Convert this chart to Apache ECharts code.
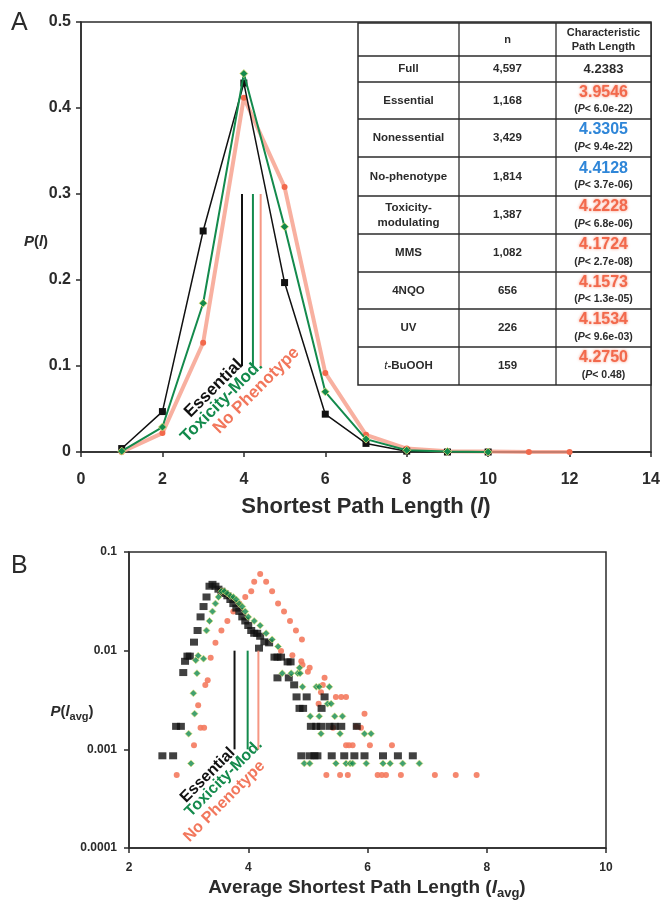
<!DOCTYPE html>
<html><head><meta charset="utf-8">
<script src="https://cdn.jsdelivr.net/npm/echarts@6/dist/echarts.min.js"></script>
<style>html,body{margin:0;padding:0;background:#fff}#c{width:663px;height:903px}</style>
</head><body><div id="c"></div>
<script>
// ---------- Panel A data ----------
const pathLengthA = [1,2,3,4,5,6,7,8,9,10,11,12];
const essentialA = [0.004,0.047,0.257,0.429,0.197,0.044,0.010,0.001,0,0];
const toxicityA  = [0.001,0.029,0.173,0.440,0.262,0.070,0.015,0.002,0.0005,0];
const noPhenoA   = [0,0.022,0.127,0.412,0.308,0.092,0.020,0.004,0.001,0.0005,0,0];
const meanA = [3.9546, 4.2228, 4.4128];      // Essential, Toxicity-Mod., No Phenotype
const meanSpanA = [0.1, 0.3];
const xTicksA = ['0','2','4','6','8','10','12','14'];
const yTicksA = ['0','0.1','0.2','0.3','0.4','0.5'];

// ---------- Table ----------
const tblGroup = ['Full','Essential','Nonessential','No-phenotype','Toxicity-\nmodulating','MMS','4NQO','UV','t-BuOOH'];
const tblN     = ['4,597','1,168','3,429','1,814','1,387','1,082','656','226','159'];
const tblCPL   = ['4.2383','3.9546','4.3305','4.4128','4.2228','4.1724','4.1573','4.1534','4.2750'];
const tblP     = ['','6.0e-22','9.4e-22','3.7e-06','6.8e-06','2.7e-08','1.3e-05','9.6e-03','0.48'];
const tblDir   = ['none','low','high','high','low','low','low','low','low'];

// ---------- Panel B data ----------
const essentialB = [
 [2.56,0.00086],[2.74,0.00086],[2.79,0.00171],[2.87,0.00171],[2.91,0.0060],[2.94,0.0078],[2.98,0.0088],[3.02,0.0088],[3.09,0.0122],
 [3.15,0.016],[3.2,0.022],[3.25,0.028],[3.3,0.035],[3.35,0.045],[3.4,0.047],[3.45,0.045],[3.5,0.042],[3.55,0.040],[3.6,0.038],[3.65,0.036],
 [3.7,0.033],[3.75,0.030],[3.8,0.027],[3.85,0.025],[3.9,0.022],[3.95,0.020],[4.0,0.018],[4.05,0.016],[4.1,0.015],[4.15,0.015],[4.2,0.014],
 [4.18,0.0106],[4.27,0.0123],[4.35,0.012],[4.44,0.0086],[4.49,0.0086],[4.55,0.0086],[4.66,0.0077],[4.71,0.0077],[4.49,0.0053],[4.68,0.0053],
 [4.77,0.0045],[4.81,0.0034],[4.98,0.0034],[5.28,0.0034],[4.86,0.0026],[4.92,0.0026],[5.23,0.0026],
 [5.05,0.00171],[5.14,0.00171],[5.22,0.00171],[5.36,0.00171],[5.45,0.00171],[5.56,0.00171],[5.82,0.00171],
 [4.89,0.00086],[5.03,0.00086],[5.11,0.00086],[5.16,0.00086],[5.40,0.00086],[5.61,0.00086],[5.78,0.00086],[5.95,0.00086],[6.26,0.00086],[6.51,0.00086],[6.76,0.00086]
];
const toxicityB = [
 [3.04,0.00072],[3.00,0.00144],[3.10,0.0023],[3.08,0.0037],[3.14,0.0059],[3.12,0.0080],[3.16,0.0089],[3.25,0.0083],
 [3.3,0.016],[3.35,0.020],[3.4,0.025],[3.45,0.030],[3.5,0.035],[3.55,0.040],[3.6,0.040],[3.65,0.038],[3.7,0.036],[3.75,0.035],[3.8,0.033],
 [3.85,0.030],[3.9,0.028],[3.95,0.025],[4.0,0.022],[4.1,0.020],[4.2,0.018],[4.3,0.015],[4.4,0.013],[4.5,0.011],
 [4.57,0.0059],[4.72,0.0059],[4.83,0.0059],[4.87,0.0059],[4.86,0.0067],
 [4.91,0.0043],[5.14,0.0043],[5.19,0.0043],[5.36,0.0043],[5.33,0.0029],[5.39,0.0029],
 [5.04,0.00216],[5.19,0.00216],[5.45,0.00216],[5.58,0.00216],[5.22,0.00144],[5.54,0.00144],[5.95,0.00144],[6.06,0.00144],
 [4.94,0.00072],[5.03,0.00072],[5.47,0.00072],[5.64,0.00072],[5.71,0.00072],[5.75,0.00072],[5.98,0.00072],[6.26,0.00072],[6.38,0.00072],[6.59,0.00072],[6.87,0.00072]
];
const noPhenoB = [
 [2.80,0.00055],[3.09,0.0011],[3.20,0.00165],[3.26,0.00165],[3.16,0.0028],[3.28,0.0045],[3.32,0.0050],[3.37,0.0085],
 [3.45,0.012],[3.55,0.016],[3.65,0.020],[3.75,0.025],[3.85,0.030],[3.95,0.035],[4.05,0.040],[4.1,0.050],[4.2,0.060],[4.3,0.050],[4.4,0.040],
 [4.5,0.030],[4.6,0.025],[4.7,0.020],[4.8,0.016],[4.9,0.013],[4.55,0.0099],[4.74,0.0090],
 [4.89,0.0078],[4.91,0.0072],[5.00,0.0061],[5.03,0.0067],[5.28,0.0053],[5.25,0.0045],[5.22,0.0038],[5.47,0.0034],[5.56,0.0034],[5.64,0.0034],
 [5.18,0.0029],[5.95,0.0023],[5.81,0.0017],[5.42,0.00165],[5.89,0.00165],
 [5.64,0.0011],[5.69,0.0011],[5.75,0.0011],[6.04,0.0011],[6.41,0.0011],
 [5.31,0.00055],[5.54,0.00055],[5.67,0.00055],[6.17,0.00055],[6.24,0.00055],[6.31,0.00055],[6.56,0.00055],[7.13,0.00055],[7.48,0.00055],[7.83,0.00055]
];
const meanB = [3.77, 3.99, 4.17];
const meanSpanB = [0.001, 0.01];
const xTicksB = ['2','4','6','8','10'];
const yTicksB = ['0.0001','0.001','0.01','0.1'];
const groupNames = ['Essential','Toxicity-Mod.','No Phenotype'];

// ---------- styles ----------
const FONT = '"Liberation Sans", Arial, Helvetica, sans-serif';
const INK = '#2b2b2b';
const C_BLACK = '#111111', C_GREEN = '#138a4c', C_RED = '#f2694c', C_REDLINE = 'rgba(245,150,128,0.75)';
const C_BLUE = '#2f86d8';

const chart = echarts.init(document.getElementById('c'), null, {renderer:'canvas'});

function axisCommon(extra){
  return Object.assign({
    axisLine:{show:true, lineStyle:{color:INK, width:1.5}},
    axisTick:{show:true, inside:false, length:5, lineStyle:{color:INK, width:1.5}},
    splitLine:{show:false}
  }, extra);
}

const series = [];
// Panel A curves
series.push({type:'line', xAxisIndex:0, yAxisIndex:0, z:2,
  data: noPhenoA.map((v,i)=>[pathLengthA[i],v]),
  lineStyle:{color:C_REDLINE, width:4}, symbol:'circle', symbolSize:6,
  itemStyle:{color:C_RED}, animation:false});
series.push({type:'line', xAxisIndex:0, yAxisIndex:0, z:3,
  data: essentialA.map((v,i)=>[pathLengthA[i],v]),
  lineStyle:{color:C_BLACK, width:1.5}, symbol:'rect', symbolSize:7,
  itemStyle:{color:C_BLACK}, animation:false});
series.push({type:'line', xAxisIndex:0, yAxisIndex:0, z:4,
  data: toxicityA.map((v,i)=>[pathLengthA[i],v]),
  lineStyle:{color:C_GREEN, width:2}, symbol:'diamond', symbolSize:8,
  itemStyle:{color:C_GREEN, borderColor:'#e9e27a', borderWidth:0.8}, animation:false});
// mean lines
const meanColors = [C_BLACK, C_GREEN, 'rgba(245,140,118,0.9)'];
meanA.forEach((m,i)=>{
  series.push({type:'line', xAxisIndex:0, yAxisIndex:0, z:5, symbol:'none',
    data: meanSpanA.map(v=>[m,v]), lineStyle:{color:meanColors[i], width:2}, animation:false});
});
// Panel B scatter
series.push({type:'scatter', xAxisIndex:1, yAxisIndex:1, z:2, data:noPhenoB, symbol:'circle', symbolSize:6,
  itemStyle:{color:'#f47a5e', opacity:0.9}, animation:false});
series.push({type:'scatter', xAxisIndex:1, yAxisIndex:1, z:3, data:essentialB, symbol:'rect', symbolSize:[8,7],
  itemStyle:{color:C_BLACK}, animation:false});
series.push({type:'scatter', xAxisIndex:1, yAxisIndex:1, z:4, data:toxicityB, symbol:'diamond', symbolSize:7,
  itemStyle:{color:C_GREEN, borderColor:'#e9e27a', borderWidth:0.8}, animation:false});
meanB.forEach((m,i)=>{
  series.push({type:'line', xAxisIndex:1, yAxisIndex:1, z:5, symbol:'none',
    data: meanSpanB.map(v=>[m,v]), lineStyle:{color:meanColors[i], width:2}, animation:false});
});

const option = {
  backgroundColor:'#fff',
  animation:false,
  textStyle:{fontFamily:FONT},
  grid:[
    {left:81, top:22, width:570, height:430, show:true, borderColor:INK, borderWidth:1.5, backgroundColor:'transparent'},
    {left:129, top:552, width:477, height:296, show:true, borderColor:INK, borderWidth:1.5, backgroundColor:'transparent'}
  ],
  xAxis:[
    axisCommon({type:'value', gridIndex:0, min:0, max:14, interval:2,
      axisLabel:{fontFamily:FONT, fontWeight:'bold', fontSize:16, color:INK, margin:20,
        formatter:(v,i)=>xTicksA[i]}}),
    axisCommon({type:'value', gridIndex:1, min:2, max:10, interval:2,
      axisLabel:{fontFamily:FONT, fontWeight:'bold', fontSize:12, color:INK, margin:14,
        formatter:(v,i)=>xTicksB[i]}})
  ],
  yAxis:[
    axisCommon({type:'value', gridIndex:0, min:0, max:0.5, interval:0.1,
      axisLabel:{fontFamily:FONT, fontWeight:'bold', fontSize:16, color:INK, margin:10,
        formatter:(v,i)=>yTicksA[i]}}),
    axisCommon({type:'log', logBase:10, gridIndex:1, min:0.0001, max:0.1,
      axisLabel:{fontFamily:FONT, fontWeight:'bold', fontSize:12, color:INK, margin:12,
        formatter:(v,i)=>yTicksB[i]}, minorTick:{show:false}})
  ],
  series: series
};
chart.setOption(option);

// ---------- graphics: titles, labels, table ----------
const g = [];
g.push({type:'text', x:11, y:11, style:{text:'A', font:'25px '+FONT, fill:INK}});
g.push({type:'text', x:11, y:554, style:{text:'B', font:'25px '+FONT, fill:INK}});
g.push({type:'text', x:36, y:242, style:{text:'{i|P}{n|(}{i|l}{n|)}', align:'center', verticalAlign:'middle',
  rich:{i:{font:'italic bold 15px '+FONT, fill:INK}, n:{font:'bold 15px '+FONT, fill:INK}}}});
g.push({type:'text', x:366, y:507, style:{text:'{n|Shortest Path Length (}{i|l}{n|)}', align:'center', verticalAlign:'middle',
  rich:{i:{font:'italic bold 22px '+FONT, fill:INK}, n:{font:'bold 22px '+FONT, fill:INK}}}});
g.push({type:'text', x:72, y:712, style:{text:'{i|P}{n|(}{i|l}{s|avg}{n|)}', align:'center', verticalAlign:'middle',
  rich:{i:{font:'italic bold 15px '+FONT, fill:INK}, n:{font:'bold 15px '+FONT, fill:INK},
        s:{font:'bold 11px '+FONT, fill:INK, padding:[10,0,0,0]}}}});
g.push({type:'text', x:367, y:888, style:{text:'{n|Average Shortest Path Length (}{i|l}{s|avg}{n|)}', align:'center', verticalAlign:'middle',
  rich:{i:{font:'italic bold 19px '+FONT, fill:INK}, n:{font:'bold 19px '+FONT, fill:INK},
        s:{font:'bold 13px '+FONT, fill:INK, padding:[11,0,0,0]}}}});

// rotated group labels near the bottoms of the mean lines
const labelColors = [C_BLACK, C_GREEN, '#f2775c'];
const offA = [[-2,-4],[7,-3],[36,-16]];
const offB = [[-2,1],[12,-7],[4,14]];
meanA.forEach((m,i)=>{
  const p = chart.convertToPixel({gridIndex:0}, [m, meanSpanA[0]]);
  g.push({type:'text', x:p[0]+offA[i][0], y:p[1]+offA[i][1], rotation:Math.PI/4,
    style:{text:groupNames[i], font:'bold 17px '+FONT, fill:labelColors[i], align:'right', verticalAlign:'middle'}});
});
meanB.forEach((m,i)=>{
  const p = chart.convertToPixel({gridIndex:1}, [m, meanSpanB[0]]);
  g.push({type:'text', x:p[0]+offB[i][0], y:p[1]+offB[i][1], rotation:Math.PI/4,
    style:{text:groupNames[i], font:'bold 16px '+FONT, fill:labelColors[i], align:'right', verticalAlign:'middle'}});
});

// table
const colX = [358, 459, 556, 651];
const rowY = [23, 56, 82, 119, 157, 196, 234, 272, 309, 347, 385];
g.push({type:'rect', shape:{x:colX[0], y:rowY[0], width:colX[3]-colX[0], height:rowY[rowY.length-1]-rowY[0]},
  style:{fill:'#fff', stroke:INK, lineWidth:1.5}, z:10});
rowY.slice(1,-1).forEach(y=>g.push({type:'line', shape:{x1:colX[0], y1:y, x2:colX[3], y2:y}, style:{stroke:INK, lineWidth:1.3}, z:11}));
[colX[1], colX[2]].forEach(x=>g.push({type:'line', shape:{x1:x, y1:rowY[0], x2:x, y2:rowY[rowY.length-1]}, style:{stroke:INK, lineWidth:1.3}, z:11}));
const cx = i => (colX[i]+colX[i+1])/2;
g.push({type:'text', x:cx(1), y:(rowY[0]+rowY[1])/2, z:12, style:{text:'n', font:'bold 11px '+FONT, fill:INK, align:'center', verticalAlign:'middle'}});
g.push({type:'text', x:cx(2), y:(rowY[0]+rowY[1])/2, z:12, style:{text:'Characteristic\nPath Length', font:'bold 11px '+FONT, lineHeight:14, fill:INK, align:'center', verticalAlign:'middle'}});
tblGroup.forEach((name,r)=>{
  const yc = (rowY[r+1]+rowY[r+2])/2;
  const nameText = name==='t-BuOOH' ? '{i|t}{n|-BuOOH}' : name.split('\n').map(s=>'{n|'+s+'}').join('\n');
  g.push({type:'text', x:cx(0), y:yc, z:12, style:{text:nameText, align:'center', verticalAlign:'middle', lineHeight:15,
    rich:{n:{font:'bold 11.5px '+FONT, fill:INK, lineHeight:15}, i:{font:'italic 11.5px '+FONT, fill:INK, lineHeight:15}}}});
  g.push({type:'text', x:cx(1), y:yc, z:12, style:{text:tblN[r], font:'bold 11.5px '+FONT, fill:INK, align:'center', verticalAlign:'middle'}});
  if (tblDir[r]==='none') {
    g.push({type:'text', x:cx(2), y:yc, z:12, style:{text:tblCPL[r], font:'bold 13px '+FONT, fill:INK, align:'center', verticalAlign:'middle'}});
  } else {
    const col = tblDir[r]==='high' ? C_BLUE : '#f2694c';
    g.push({type:'text', x:cx(2), y:yc-8, z:12, style:{text:tblCPL[r], font:'bold 16px '+FONT, fill:col, align:'center', verticalAlign:'middle',
      textShadowColor: tblDir[r]==='low' ? 'rgba(245,120,90,0.8)' : 'transparent', textShadowBlur: tblDir[r]==='low' ? 3 : 0}});
    g.push({type:'text', x:cx(2), y:yc+9, z:12, style:{text:'{n|(}{i|P}{n|< '+tblP[r]+')}', align:'center', verticalAlign:'middle',
      rich:{n:{font:'bold 10.5px '+FONT, fill:INK}, i:{font:'italic bold 10.5px '+FONT, fill:INK}}}});
  }
});
chart.setOption({graphic:g});
</script>
</body></html>
